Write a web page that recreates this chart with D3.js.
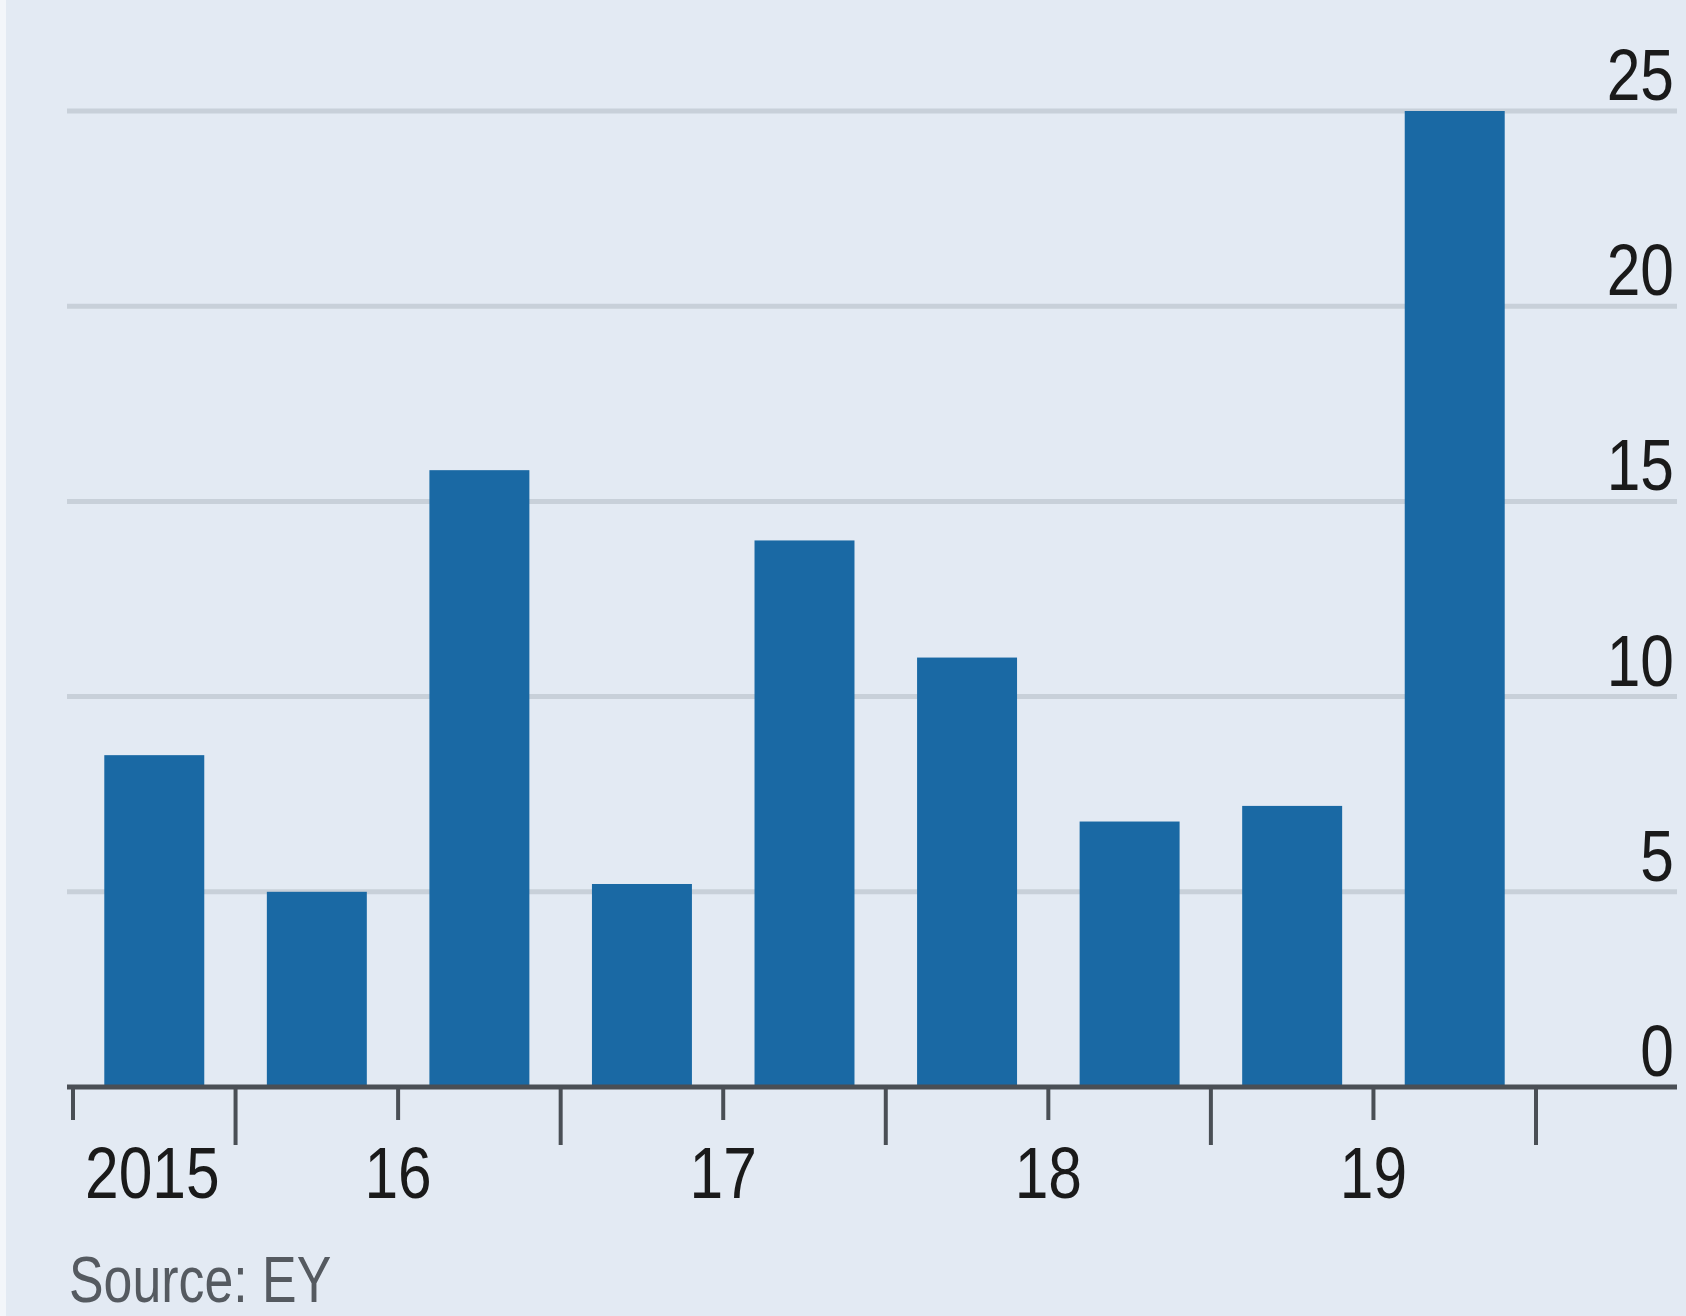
<!DOCTYPE html>
<html>
<head>
<meta charset="utf-8">
<script src="https://cdn.jsdelivr.net/npm/d3@7"></script>
<style>
  html, body { margin: 0; padding: 0; background: #e3eaf3; }
  svg { display: block; }
</style>
</head>
<body>
<script>
// Data
const categories = ["2015 H2", "2016 H1", "2016 H2", "2017 H1", "2017 H2", "2018 H1", "2018 H2", "2019 H1", "2019 H2"];
const values = [8.5, 5.0, 15.8, 5.2, 14.0, 11.0, 6.8, 7.2, 25.0];
const yTicks = [0, 5, 10, 15, 20, 25];
const xTickLabels = ["2015", "16", "17", "18", "19"];
const sourceText = "Source: EY";

const W = 1686, H = 1316;
const font = "'Liberation Sans', Arial, sans-serif";

const svg = d3.select("body").append("svg").attr("width", W).attr("height", H);

svg.append("rect").attr("width", W).attr("height", H).attr("fill", "#e3eaf3");
svg.append("rect").attr("width", 6).attr("height", H).attr("fill", "#f3f6fa");

const gridLeft = 67, gridRight = 1677;

const x = d3.scaleBand().domain(categories).range([73, 1536]).paddingInner(0.385).paddingOuter(0.1925);
const y = d3.scaleLinear().domain([0, 25]).range([1087, 111]);

// Condense text horizontally via textLength
function condense(sel, sx) {
  sel.each(function () {
    const l = this.getComputedTextLength();
    d3.select(this).attr("textLength", l * sx).attr("lengthAdjust", "spacingAndGlyphs");
  });
}

// Gridlines
svg.append("g").selectAll("line").data(yTicks.filter(d => d > 0)).join("line")
  .attr("x1", gridLeft).attr("x2", gridRight)
  .attr("y1", d => y(d)).attr("y2", d => y(d))
  .attr("stroke", "#c8d0d9").attr("stroke-width", 5);

// Bars
svg.append("g").selectAll("rect").data(values).join("rect")
  .attr("x", (d, i) => x(categories[i]))
  .attr("width", x.bandwidth())
  .attr("y", d => y(d))
  .attr("height", d => y(0) - y(d))
  .attr("fill", "#1a69a4");

// Y labels
svg.append("g").selectAll("text").data(yTicks).join("text")
  .attr("x", 1674).attr("y", d => y(d) - 11)
  .attr("text-anchor", "end")
  .attr("font-family", font).attr("font-size", 72)
  .attr("fill", "#1a1a1a")
  .text(d => d)
  .call(condense, 0.84);

// X axis line
svg.append("line")
  .attr("x1", gridLeft).attr("x2", gridRight)
  .attr("y1", y(0)).attr("y2", y(0))
  .attr("stroke", "#4a4f55").attr("stroke-width", 5);

// Ticks at band boundaries
const r0 = x.range()[0];
const boundaries = d3.range(categories.length + 1).map(i => r0 + i * x.step());
svg.append("g").selectAll("line").data(boundaries).join("line")
  .attr("x1", d => d).attr("x2", d => d)
  .attr("y1", y(0)).attr("y2", (d, i) => y(0) + (i % 2 === 0 ? 33 : 58))
  .attr("stroke", "#4a4f55").attr("stroke-width", 4);

// X labels
svg.append("g").selectAll("text").data(xTickLabels).join("text")
  .attr("x", (d, i) => i === 0 ? 85 : boundaries[i * 2])
  .attr("y", 1198)
  .attr("text-anchor", (d, i) => i === 0 ? "start" : "middle")
  .attr("font-family", font).attr("font-size", 72)
  .attr("fill", "#1a1a1a")
  .text(d => d)
  .call(condense, 0.84);

// Source
svg.append("text")
  .attr("x", 69).attr("y", 1302)
  .attr("font-family", font).attr("font-size", 64)
  .attr("fill", "#555a60")
  .text(sourceText)
  .call(condense, 0.81);
</script>
</body>
</html>
